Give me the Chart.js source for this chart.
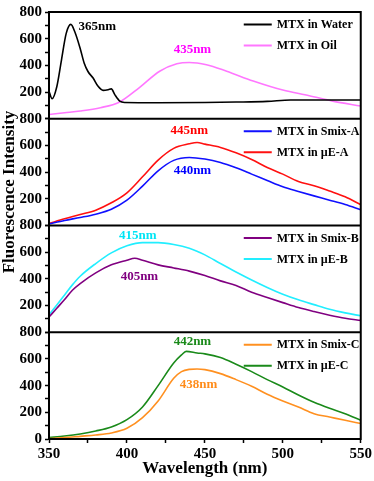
<!DOCTYPE html>
<html>
<head>
<meta charset="utf-8">
<script src="https://cdn.jsdelivr.net/npm/chart.js@4.4.0/dist/chart.umd.min.js"></script>
<style>
  html, body { margin: 0; padding: 0; background: #fff; }
  #wrap { width: 374px; height: 481px; }
</style>
</head>
<body>
<div id="wrap"><canvas id="myChart" width="374" height="481"></canvas></div>
<script>
// wavelengths (nm) and intensities
const waterNm  = [350, 352, 355, 358, 361, 364, 366.6, 370, 372.6, 375, 378.3, 381.5, 384.7, 388, 390, 392.2, 395.4, 398.6, 420, 450, 470, 490, 505, 550];
const waterVal = [206, 150, 240, 440, 638, 707, 650, 527, 416, 354, 305, 243, 213, 218, 224, 181, 132, 122, 120, 122, 125, 130, 140, 140];

const oilNm  = [350, 360, 370, 383, 395, 408, 421, 432, 440, 451, 464, 481, 500, 517, 532, 550];
const oilVal = [32, 45, 58, 83, 124, 234, 356, 412, 422, 405, 356, 283, 215, 173, 132, 95];

const smixANm  = [350, 360, 370, 380, 390, 400, 410, 420, 430, 440, 450, 460, 470, 480, 490, 500, 510, 520, 530, 540, 550];
const smixAVal = [12, 38, 60, 85, 122, 190, 295, 410, 488, 510, 498, 472, 432, 385, 337, 290, 255, 222, 190, 157, 118];

const meANm  = [350, 360, 370, 380, 390, 400, 410, 420, 430, 440, 445, 450, 460, 470, 480, 490, 500, 510, 520, 530, 540, 550];
const meAVal = [15, 50, 82, 115, 170, 245, 365, 490, 578, 612, 622, 610, 585, 545, 495, 435, 385, 330, 298, 258, 215, 156];

const smixBNm  = [350, 355, 360, 365, 370, 380, 390, 400, 405, 410, 420, 430, 440, 450, 460, 470, 480, 490, 500, 510, 520, 530, 540, 550];
const smixBVal = [114, 180, 245, 315, 365, 445, 505, 540, 555, 540, 505, 482, 458, 425, 385, 350, 300, 260, 222, 185, 155, 128, 105, 89];

const meBNm  = [350, 355, 360, 365, 370, 380, 390, 400, 410, 420, 430, 440, 450, 460, 470, 480, 490, 500, 510, 520, 530, 540, 550];
const meBVal = [131, 205, 280, 355, 420, 515, 595, 648, 672, 672, 658, 630, 580, 515, 452, 392, 336, 285, 243, 207, 172, 145, 123];

const smixCNm  = [350, 360, 370, 380, 390, 400, 410, 420, 430, 435, 440, 445, 450, 460, 470, 480, 490, 500, 510, 520, 530, 540, 550];
const smixCVal = [3, 10, 20, 30, 45, 80, 160, 285, 455, 505, 522, 525, 520, 490, 445, 395, 335, 285, 240, 190, 165, 140, 116];

const meCNm  = [350, 360, 370, 380, 390, 400, 410, 420, 430, 435, 438, 445, 450, 460, 470, 480, 490, 500, 510, 520, 530, 540, 550];
const meCVal = [10, 22, 38, 60, 90, 145, 240, 400, 570, 630, 657, 645, 638, 610, 560, 505, 445, 390, 330, 275, 230, 190, 141];

const seriesLabels = ['MTX in Water', 'MTX in Oil', 'MTX in Smix-A', 'MTX in \u00b5E-A',
                      'MTX in Smix-B', 'MTX in \u00b5E-B', 'MTX in Smix-C', 'MTX in \u00b5E-C'];
const seriesColors = ['#000000', '#ff77ff', '#1010ff', '#ff1010', '#800080', '#22eeff', '#ff9020', '#1a8a1a'];
const panelAxes = ['y1', 'y1', 'y2', 'y2', 'y3', 'y3', 'y4', 'y4'];

// peak labels: text, wavelength, intensity, panel
const peakText  = ['365nm', '435nm', '445nm', '440nm', '415nm', '405nm', '442nm', '438nm'];
const peakNm    = [381, 442, 440, 442, 407, 408, 442, 446];
const peakVal   = [693, 515, 711, 410, 724, 417, 733, 407];
const peakAxis  = ['y1', 'y1', 'y2', 'y2', 'y3', 'y3', 'y4', 'y4'];
const peakColor = ['#000000', '#ff00ff', '#ff0000', '#0000ff', '#00e5f5', '#800080', '#1a8a1a', '#ff8c1a'];

const xTicks = [350, 400, 450, 500, 550];

const FONT = "'Liberation Serif', 'Times New Roman', serif";
Chart.defaults.font.family = FONT;
Chart.defaults.font.weight = 'bold';
Chart.defaults.color = '#000';

const xs = [waterNm, oilNm, smixANm, meANm, smixBNm, meBNm, smixCNm, meCNm];
const ys = [waterVal, oilVal, smixAVal, meAVal, smixBVal, meBVal, smixCVal, meCVal];

const datasets = seriesLabels.map((lab, i) => ({
  label: lab,
  data: xs[i].map((x, j) => ({x: x, y: ys[i][j]})),
  borderColor: seriesColors[i],
  borderWidth: 1.6,
  pointRadius: 0,
  cubicInterpolationMode: 'monotone',
  yAxisID: panelAxes[i]
}));

function yAxis(isBottom) {
  return {
    type: 'linear',
    position: 'left',
    stack: 'panels',
    stackWeight: 1,
    min: 0, max: 800,
    afterFit: (s) => { s.width = 49; },
    ticks: {
      stepSize: 100,
      autoSkip: false,
      font: {size: 15, weight: 'bold'},
      padding: 3,
      callback: (v) => (v % 200 === 0 && (v !== 0 || isBottom)) ? v : ''
    },
    grid: {drawOnChartArea: false, tickLength: 4, color: '#000', tickWidth: 1.5},
    border: {color: '#000', width: 2}
  };
}

const panelDecor = {
  id: 'panelDecor',
  afterDatasetsDraw(chart) {
    const ctx = chart.ctx, a = chart.chartArea;
    ctx.save();
    ctx.strokeStyle = '#000';
    ctx.lineWidth = 2;
    ctx.strokeRect(a.left, a.top, a.right - a.left, a.bottom - a.top);
    ['y2', 'y3', 'y4'].forEach(id => {
      const s = chart.scales[id];
      ctx.beginPath();
      ctx.moveTo(a.left, s.top);
      ctx.lineTo(a.right, s.top);
      ctx.stroke();
    });

    // legends, two rows per panel
    ctx.font = 'bold 12px ' + FONT;
    ctx.textBaseline = 'middle';
    ctx.textAlign = 'left';
    chart.data.datasets.forEach((ds, i) => {
      const s = chart.scales[ds.yAxisID];
      const y = s.top + (i % 2 === 0 ? 12.5 : 33.5);
      ctx.strokeStyle = ds.borderColor;
      ctx.lineWidth = 2;
      ctx.beginPath();
      ctx.moveTo(a.right - 117, y);
      ctx.lineTo(a.right - 89, y);
      ctx.stroke();
      ctx.fillStyle = '#000';
      ctx.fillText(ds.label, a.right - 84, y + 0.5);
    });

    // peak labels
    const x = chart.scales.x;
    ctx.font = 'bold 13px ' + FONT;
    ctx.textAlign = 'center';
    peakText.forEach((t, i) => {
      ctx.fillStyle = peakColor[i];
      ctx.fillText(t, x.getPixelForValue(peakNm[i]), chart.scales[peakAxis[i]].getPixelForValue(peakVal[i]));
    });

    // y title
    ctx.save();
    ctx.translate(10, 192);
    ctx.rotate(-Math.PI / 2);
    ctx.font = 'bold 17px ' + FONT;
    ctx.fillStyle = '#000';
    ctx.fillText('Fluorescence Intensity', 0, 0);
    ctx.restore();
    ctx.restore();
  }
};

new Chart(document.getElementById('myChart'), {
  type: 'line',
  data: {datasets: datasets},
  options: {
    responsive: false,
    animation: false,
    layout: {padding: {top: 6, right: 12, left: 0, bottom: 0}},
    plugins: {legend: {display: false}, tooltip: {enabled: false}},
    scales: {
      x: {
        type: 'linear',
        min: 350, max: 550,
        afterFit: (s) => { s.height = 42; },
        ticks: {
          stepSize: 25,
          autoSkip: false,
          font: {size: 15, weight: 'bold'},
          padding: 2,
          callback: (v) => xTicks.includes(v) ? v : ''
        },
        grid: {drawOnChartArea: false, tickLength: 4, color: '#000', tickWidth: 1.5},
        border: {color: '#000', width: 2},
        title: {display: true, text: 'Wavelength (nm)', font: {size: 17, weight: 'bold'}, padding: {top: 0, bottom: 2}}
      },
      // stacked panels: first listed sits at the bottom
      y4: yAxis(true),
      y3: yAxis(false),
      y2: yAxis(false),
      y1: yAxis(false)
    }
  },
  plugins: [panelDecor]
});
</script>
</body>
</html>
